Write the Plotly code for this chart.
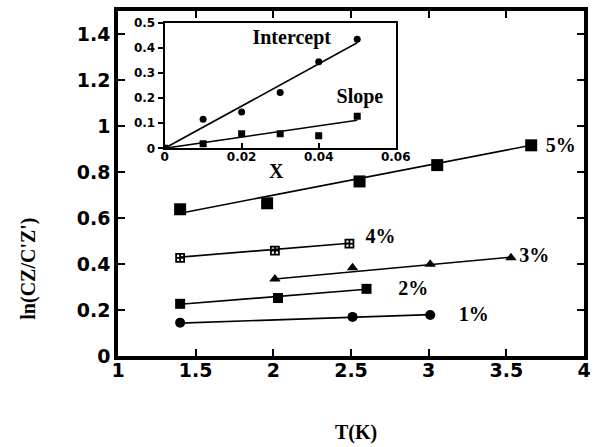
import plotly.graph_objects as go

# ---- main data: T(K) vs ln(CZ/C'Z') ----
t_1 = [1.40, 2.51, 3.01]
v_1 = [0.145, 0.170, 0.178]
t_2 = [1.40, 2.03, 2.60]
v_2 = [0.227, 0.252, 0.292]
t_3 = [2.01, 2.51, 3.01, 3.53]
v_3 = [0.335, 0.384, 0.399, 0.427]
t_4 = [1.40, 2.01, 2.49]
v_4 = [0.427, 0.458, 0.489]
t_5 = [1.40, 1.96, 2.555, 3.055, 3.66]
v_5 = [0.638, 0.664, 0.759, 0.830, 0.916]

# fitted lines (endpoints)
fit_t_1 = [1.40, 3.01]
fit_v_1 = [0.143, 0.180]
fit_t_2 = [1.40, 2.60]
fit_v_2 = [0.225, 0.290]
fit_t_3 = [2.01, 3.53]
fit_v_3 = [0.335, 0.430]
fit_t_4 = [1.40, 2.49]
fit_v_4 = [0.430, 0.490]
fit_t_5 = [1.40, 3.66]
fit_v_5 = [0.621, 0.916]

series_labels = ["1%", "2%", "3%", "4%", "5%"]
label_t = [3.29, 2.90, 3.68, 2.69, 3.85]
label_v = [0.175, 0.285, 0.430, 0.515, 0.910]

# ---- inset data: X vs Intercept / Slope ----
x_in = [0.0, 0.01, 0.02, 0.03, 0.04, 0.05]
intercept = [0.0, 0.116, 0.145, 0.222, 0.345, 0.434]
slope = [0.0, 0.018, 0.058, 0.058, 0.050, 0.128]
fit_x_in = [0.0, 0.05]
fit_intercept = [0.0, 0.420]
fit_slope = [0.0, 0.112]

main_xticks = [1, 1.5, 2, 2.5, 3, 3.5, 4]
main_xtext = ["1", "1.5", "2", "2.5", "3", "3.5", "4"]
main_yticks = [0, 0.2, 0.4, 0.6, 0.8, 1.0, 1.2, 1.4]
main_ytext = ["0", "0.2", "0.4", "0.6", "0.8", "1", "1.2", "1.4"]
in_xticks = [0, 0.02, 0.04, 0.06]
in_xtext = ["0", "0.02", "0.04", "0.06"]
in_yticks = [0, 0.1, 0.2, 0.3, 0.4, 0.5]
in_ytext = ["0", "0.1", "0.2", "0.3", "0.4", "0.5"]

fig = go.Figure()
LW = 1.6
for ft, fv in [(fit_t_1, fit_v_1), (fit_t_2, fit_v_2), (fit_t_3, fit_v_3),
               (fit_t_4, fit_v_4), (fit_t_5, fit_v_5)]:
    fig.add_trace(go.Scatter(x=ft, y=fv, mode="lines",
                             line=dict(color="black", width=LW), showlegend=False))

fig.add_trace(go.Scatter(x=t_1, y=v_1, mode="markers",
                         marker=dict(symbol="circle", size=10, color="black"), showlegend=False))
fig.add_trace(go.Scatter(x=t_2, y=v_2, mode="markers",
                         marker=dict(symbol="square", size=10, color="black"), showlegend=False))
fig.add_trace(go.Scatter(x=t_3, y=v_3, mode="markers",
                         marker=dict(symbol="triangle-up", size=10, color="black"), showlegend=False))
fig.add_trace(go.Scatter(x=t_4, y=v_4, mode="markers",
                         marker=dict(symbol="square-cross-open", size=8, color="black",
                                     line=dict(width=1.8, color="black")), showlegend=False))
fig.add_trace(go.Scatter(x=t_5, y=v_5, mode="markers",
                         marker=dict(symbol="square", size=12, color="black"), showlegend=False))

fig.add_trace(go.Scatter(x=label_t, y=label_v, mode="text", text=series_labels,
                         textposition="middle center",
                         textfont=dict(family="Liberation Serif", size=20, color="black", weight="bold"),
                         showlegend=False))

# inset
for fy in [fit_intercept, fit_slope]:
    fig.add_trace(go.Scatter(x=fit_x_in, y=fy, mode="lines", xaxis="x2", yaxis="y2",
                             line=dict(color="black", width=1.6), showlegend=False))
fig.add_trace(go.Scatter(x=x_in, y=intercept, mode="markers", xaxis="x2", yaxis="y2",
                         marker=dict(symbol="circle", size=7, color="black"), showlegend=False))
fig.add_trace(go.Scatter(x=x_in, y=slope, mode="markers", xaxis="x2", yaxis="y2",
                         marker=dict(symbol="square", size=7, color="black"), showlegend=False))
fig.add_trace(go.Scatter(x=[0.033, 0.0507], y=[0.434, 0.2], mode="text",
                         text=["Intercept", "Slope"], xaxis="x2", yaxis="y2",
                         textfont=dict(family="Liberation Serif", size=20, color="black", weight="bold"),
                         showlegend=False))

tickfont = dict(family="DejaVu Sans", size=19, color="black", weight="bold")
smallfont = dict(family="DejaVu Sans", size=12, color="black", weight="bold")

fig.update_layout(
    width=603, height=447,
    margin=dict(l=118, r=15, t=4, b=91),
    paper_bgcolor="white", plot_bgcolor="white",
    xaxis=dict(range=[1, 4], tickvals=main_xticks, ticktext=main_xtext,
               showline=True, linecolor="black", linewidth=3.5, mirror="allticks",
               ticks="inside", ticklen=7, tickwidth=2, tickcolor="black",
               ticklabelstandoff=-6,
               showgrid=False, zeroline=False, tickfont=tickfont),
    yaxis=dict(range=[0, 1.5], tickvals=main_yticks, ticktext=main_ytext,
               showline=True, linecolor="black", linewidth=3.5, mirror="allticks",
               ticks="inside", ticklen=7, tickwidth=2, tickcolor="black",
               showgrid=False, zeroline=False, tickfont=tickfont),
    xaxis2=dict(domain=[0.1, 0.596], anchor="y2", range=[0, 0.06],
                tickvals=in_xticks, ticktext=in_xtext,
                showline=True, linecolor="black", linewidth=2, mirror=True,
                ticks="inside", ticklen=5, tickwidth=1.5, tickcolor="black",
                ticklabelstandoff=-4,
                showgrid=False, zeroline=False, tickfont=smallfont),
    yaxis2=dict(domain=[0.602, 0.966], anchor="x2", range=[0, 0.5],
                tickvals=in_yticks, ticktext=in_ytext,
                showline=True, linecolor="black", linewidth=2, mirror=True,
                ticks="outside", ticklen=5, tickwidth=1.5, tickcolor="black",
                showgrid=False, zeroline=False, tickfont=smallfont),
    annotations=[
        dict(text="ln(CZ/C'Z')", xref="paper", yref="paper", x=-0.191, y=0.253,
             textangle=-90, showarrow=False, xanchor="center", yanchor="middle",
             font=dict(family="Liberation Serif", size=20, color="black", weight="bold")),
        dict(text="T(K)", xref="paper", yref="paper", x=0.51, y=-0.222,
             showarrow=False, xanchor="center", yanchor="middle",
             font=dict(family="Liberation Serif", size=20, color="black", weight="bold")),
        dict(text="X", xref="paper", yref="paper", x=(278 - 118) / 470, y=(356 - 167) / 352,
             showarrow=False, xanchor="center", yanchor="middle",
             font=dict(family="Liberation Serif", size=20, color="black", weight="bold")),
    ],
)

fig.write_html("out.html", config={"displayModeBar": False},
               post_script="document.body.style.margin='0';document.body.style.padding='0';")
